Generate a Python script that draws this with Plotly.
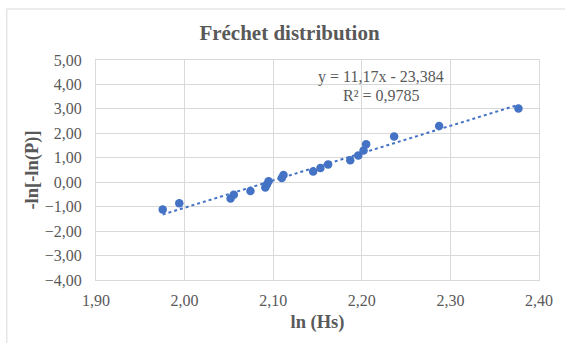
import numpy as np
import plotly.graph_objects as go

# ln(Hs) and the reduced variate -ln[-ln(P)] for each observation
ln_hs = [1.9753, 1.9940, 2.0519, 2.0555, 2.0743, 2.0911, 2.0929, 2.0948, 2.1097, 2.1116,
         2.1451, 2.1533, 2.1620, 2.1870, 2.1960, 2.2020, 2.2049, 2.2365, 2.2873, 2.3768]
reduced = [-1.12, -0.86, -0.67, -0.51, -0.36, -0.22, -0.09, 0.04, 0.17, 0.30,
           0.44, 0.58, 0.73, 0.90, 1.09, 1.30, 1.55, 1.87, 2.30, 3.02]

# Linear trendline as reported in the equation label
slope = 11.17
intercept = -23.384
r_squared = 0.9785

x_ticks = [1.90, 2.00, 2.10, 2.20, 2.30, 2.40]
y_ticks = [5, 4, 3, 2, 1, 0, -1, -2, -3, -4]

BLUE = "#4472C4"
GRID = "#D9D9D9"
TEXT = "#595959"
SERIF = "Liberation Serif"

W, H = 565, 343
ML, MR, MT, MB = 96, 22, 60, 63
PW, PH = W - ML - MR, H - MT - MB

trend_x = np.array([min(ln_hs), max(ln_hs)])
trend_y = slope * trend_x + intercept

fig = go.Figure()
fig.add_trace(go.Scatter(
    x=trend_x, y=trend_y, mode="lines",
    line=dict(color=BLUE, width=2, dash="dot"),
    hoverinfo="skip", showlegend=False,
))
fig.add_trace(go.Scatter(
    x=ln_hs, y=reduced, mode="markers",
    marker=dict(color=BLUE, size=8.5),
    showlegend=False,
))

def fmt(v, nd):
    return f"{v:.{nd}f}".replace(".", ",")

eq_lines = [
    (f"y = {fmt(slope, 2)}x - {fmt(abs(intercept), 3)}", 77),
    (f"R² = {fmt(r_squared, 4)}", 95.5),
]
for txt, py in eq_lines:
    fig.add_annotation(
        text=txt, xref="paper", yref="paper",
        x=(384 - ML) / PW, y=(MT + PH - py) / PH,
        showarrow=False, xanchor="center", yanchor="middle",
        font=dict(family=SERIF, size=16, color=TEXT),
    )

# Chart-area border (left and top edges visible)
fig.add_shape(
    type="rect", xref="paper", yref="paper",
    x0=(6 - ML) / PW, x1=(W + 20 - ML) / PW,
    y0=-(MB + 20) / PH, y1=(MT + PH - 9) / PH,
    line=dict(color=GRID, width=1), fillcolor="rgba(0,0,0,0)", layer="below",
)

fig.update_layout(
    width=W, height=H,
    margin=dict(l=ML, r=MR, t=MT, b=MB),
    paper_bgcolor="white", plot_bgcolor="white",
    separators=", ",
    title=dict(
        text="Fréchet distribution",
        xref="container", yref="container",
        x=289.5 / W, y=1 - 33 / H, xanchor="center", yanchor="middle",
        font=dict(family=SERIF, size=21, color=TEXT, weight="bold"),
    ),
    xaxis=dict(
        range=[1.90, 2.40], tickvals=x_ticks, tickformat=".2f",
        showgrid=True, gridcolor=GRID, gridwidth=1,
        showline=True, linecolor=GRID, mirror=True, zeroline=False,
        ticks="outside", ticklen=6, tickcolor="rgba(0,0,0,0)",
        tickfont=dict(family=SERIF, size=16, color=TEXT),
        title=dict(text="ln (Hs)", standoff=6,
                   font=dict(family=SERIF, size=18.5, color=TEXT, weight="bold")),
    ),
    yaxis=dict(
        range=[-4, 5], tickvals=y_ticks, tickformat=".2f",
        showgrid=True, gridcolor=GRID, gridwidth=1,
        showline=True, linecolor=GRID, mirror=True, zeroline=False,
        ticks="outside", ticklen=10, tickcolor="rgba(0,0,0,0)",
        tickfont=dict(family=SERIF, size=16, color=TEXT),
        title=dict(text="-ln[-ln(P)]", standoff=1,
                   font=dict(family=SERIF, size=18.5, color=TEXT, weight="bold")),
    ),
)

fig.write_html("out.html")
